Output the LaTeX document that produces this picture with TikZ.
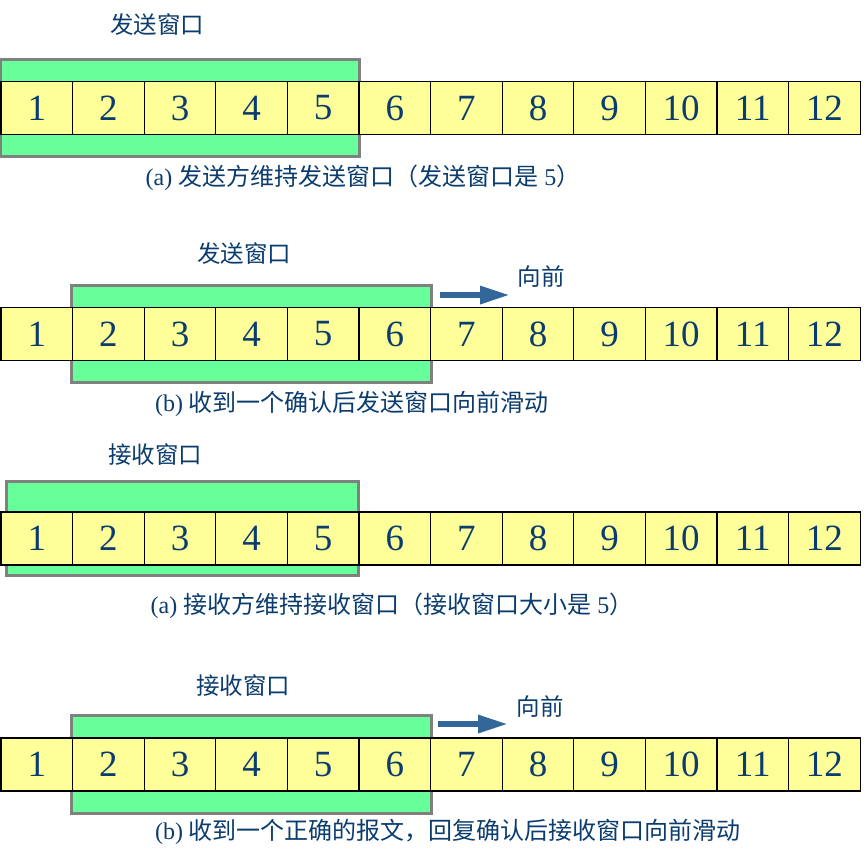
\documentclass[tikz,border=0pt]{standalone}
\usepackage{fontspec}
\setmainfont{Liberation Serif}
\newfontfamily\cjk{Noto Sans CJK SC}
\usetikzlibrary{arrows.meta,positioning,fit,backgrounds}
\definecolor{cellyellow}{HTML}{FFFF99}
\definecolor{wingreen}{HTML}{66FF99}
\definecolor{wingray}{HTML}{808080}
\definecolor{txtblue}{HTML}{0B3C6E}
\definecolor{arrowblue}{HTML}{336699}

\begin{document}
\begin{tikzpicture}[x=1pt, y=-1pt, >=Latex]
  \tikzstyle{cell}=[draw,line width=1.3pt,fill=cellyellow,minimum width=71.6pt,minimum height=53pt,inner sep=0pt,text=txtblue,font=\fontsize{37}{37}\selectfont]
  \tikzstyle{win}=[draw=wingray,line width=3pt,fill=wingreen,inner xsep=0pt,inner ysep=21.5pt]
  \tikzstyle{lbl}=[text=txtblue,font=\cjk\fontsize{23.5}{23.5}\selectfont,inner sep=0pt]
  \tikzstyle{captxt}=[text=txtblue,font=\fontsize{24}{24}\selectfont,inner sep=0pt]
  \tikzstyle{fwd}=[draw=arrowblue,line width=6pt,-{Triangle[length=30pt,width=17pt]}]
  \useasboundingbox (0,0) rectangle (868,862);
  % sequence numbers, four rows
  \foreach \r/\y in {1/108,2/334,3/538.5,4/764.5}
    \foreach \i in {1,...,12}
      \node[cell] (r\r c\i) at ({1+71.6*(\i-0.5)},\y) {\i};
  % windows behind the cells
  \coordinate (w3nw) at (6.5,481.5);
  \coordinate (w3se) at (358.5,575.5);
  \begin{scope}[on background layer]
    \node[win,fit=(r1c1)(r1c5)] (w1) {};
    \node[win,fit=(r2c2)(r2c6)] (w2) {};
    \node[win,inner sep=0pt,fit=(w3nw)(w3se)] (w3) {};
    \node[win,fit=(r4c2)(r4c6)] (w4) {};
  \end{scope}
  % sender
  \node[lbl] (t1) at (157,25) {发送窗口};
  \node[captxt] (c1) at (363,178) {(a) {\cjk 发送方维持发送窗口（发送窗口是} 5{\cjk ）}};
  \node[lbl] (t2) at (244,254) {发送窗口};
  \coordinate (f2s) at (440,295);
  \coordinate (f2e) at (510,295);
  \draw[fwd] (f2s) -- (f2e);
  \node[lbl] (q2) at (541,277) {向前};
  \node[captxt] (c2) at (352,404) {(b) {\cjk 收到一个确认后发送窗口向前滑动}};
  % receiver
  \node[lbl] (t3) at (155,455) {接收窗口};
  \node[captxt] (c3) at (392,606) {(a) {\cjk 接收方维持接收窗口（接收窗口大小是} 5{\cjk ）}};
  \node[lbl] (t4) at (243,686) {接收窗口};
  \coordinate (f4s) at (438,724);
  \coordinate (f4e) at (508,724);
  \draw[fwd] (f4s) -- (f4e);
  \node[lbl] (q4) at (540,707) {向前};
  \node[captxt] (c4) at (448,832) {(b) {\cjk 收到一个正确的报文，回复确认后接收窗口向前滑动}};
\end{tikzpicture}
\end{document}
